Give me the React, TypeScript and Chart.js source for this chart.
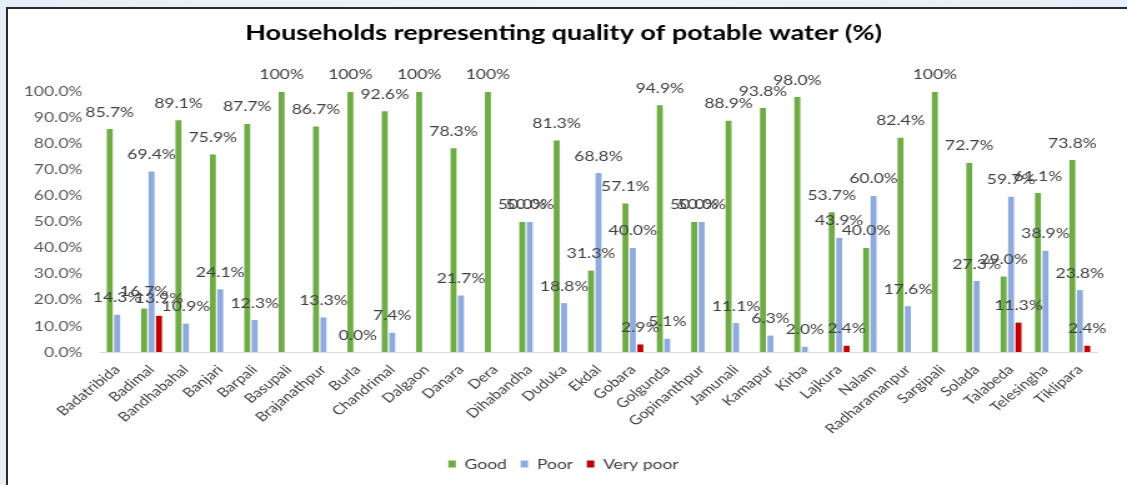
import React, { useEffect, useRef } from "react";
import { Chart, registerables } from "chart.js";

Chart.register(...registerables);

const TITLE = "Households representing quality of potable water (%)";

const categories = [
  "Badatribida", "Badimal", "Bandhabahal", "Banjari", "Barpali", "Basupali",
  "Brajanathpur", "Burla", "Chandrimal", "Dalgaon", "Danara", "Dera",
  "Dihabandha", "Duduka", "Ekdal", "Gobara", "Golgunda", "Gopinanthpur",
  "Jamunali", "Kamapur", "Kirba", "Lajkura", "Nalam", "Radharamanpur",
  "Sargipali", "Solada", "Talabeda", "Telesingha", "Tiklipara",
];

const good = [
  85.7, 16.7, 89.1, 75.9, 87.7, 100, 86.7, 100, 92.6, 100, 78.3, 100,
  50.0, 81.3, 31.3, 57.1, 94.9, 50.0, 88.9, 93.8, 98.0, 53.7, 40.0, 82.4,
  100, 72.7, 29.0, 61.1, 73.8,
];

const poor = [
  14.3, 69.4, 10.9, 24.1, 12.3, null, 13.3, 0.0, 7.4, null, 21.7, null,
  50.0, 18.8, 68.8, 40.0, 5.1, 50.0, 11.1, 6.3, 2.0, 43.9, 60.0, 17.6,
  null, 27.3, 59.7, 38.9, 23.8,
];

const veryPoor = [
  null, 13.9, null, null, null, null, null, null, null, null, null, null,
  null, null, null, 2.9, null, null, null, null, null, 2.4, null, null,
  null, null, 11.3, null, 2.4,
];

const yTicks = [0, 10, 20, 30, 40, 50, 60, 70, 80, 90, 100];

const STRETCH = 1.25;
const OUT_W = 1127;
const OUT_H = 485;
const IN_W = Math.round(OUT_W / STRETCH);

const FONT = "Lato, 'Open Sans', sans-serif";
const TEXT = "#404040";

const fmt = (v: number) => (v === 100 ? "100%" : v.toFixed(1) + "%");

const barLabels = {
  id: "barLabels",
  afterLayout(chart: any) {
    // centre title and legend over the whole canvas
    const t = chart.titleBlock;
    if (t) {
      t.left = 0;
      t.right = chart.width;
      t.width = chart.width;
    }
    const l = chart.legend;
    if (l) {
      l.left = 0;
      l.right = chart.width;
      l.width = chart.width;
    }
  },
  afterDatasetsDraw(chart: any) {
    const ctx = chart.ctx;
    ctx.save();
    ctx.font = `14px ${FONT}`;
    ctx.fillStyle = TEXT;
    ctx.textAlign = "center";
    ctx.textBaseline = "middle";
    chart.data.datasets.forEach((ds: any, i: number) => {
      const meta = chart.getDatasetMeta(i);
      meta.data.forEach((bar: any, j: number) => {
        const v = ds.data[j];
        if (v === null || v === undefined) return;
        ctx.fillText(fmt(v), bar.x, bar.y - 17);
      });
    });
    ctx.restore();
  },
};

export default function App() {
  const ref = useRef<HTMLCanvasElement | null>(null);

  useEffect(() => {
    if (!ref.current) return;
    const chart = new Chart(ref.current, {
      type: "bar",
      data: {
        labels: categories,
        datasets: [
          { label: "Good", data: good, backgroundColor: "#6FAC46" },
          { label: "Poor", data: poor, backgroundColor: "#8FAADC" },
          { label: "Very poor", data: veryPoor, backgroundColor: "#C00000" },
        ],
      },
      options: {
        responsive: false,
        animation: false,
        devicePixelRatio: 1,
        layout: { padding: { left: 0, right: IN_W - 878, top: 0, bottom: 4 } },
        datasets: { bar: { categoryPercentage: 0.65, barPercentage: 0.8 } },
        scales: {
          x: {
            grid: { display: false },
            border: { display: true, color: "#D9D9D9" },
            ticks: {
              autoSkip: false,
              minRotation: 45,
              maxRotation: 45,
              color: TEXT,
              font: { family: FONT, size: 13 },
              padding: 2,
            },
            afterFit: (s: any) => {
              s.height = 94;
            },
          },
          y: {
            min: 0,
            max: 100,
            grid: { display: false, drawTicks: false },
            border: { display: false },
            afterBuildTicks: (s: any) => {
              s.ticks = yTicks.map((v) => ({ value: v }));
            },
            ticks: {
              color: "#595959",
              font: { family: FONT, size: 14 },
              padding: 14,
              callback: (v: any) => Number(v).toFixed(1) + "%",
            },
            afterFit: (s: any) => {
              s.width = 80;
            },
          },
        },
        plugins: {
          title: {
            display: true,
            text: TITLE,
            color: "#000000",
            font: { family: FONT, size: 21.6, weight: "bold" },
            padding: { top: 20, bottom: 46 },
          },
          legend: {
            position: "bottom",
            labels: {
              boxWidth: 6,
              boxHeight: 7,
              padding: 11,
              color: TEXT,
              font: { family: FONT, size: 14 },
            },
          },
          tooltip: { enabled: false },
        },
      },
      plugins: [barLabels],
    } as any);
    (document as any).fonts?.ready?.then(() => chart.update());
    return () => chart.destroy();
  }, []);

  return (
    <div
      style={{
        position: "fixed",
        left: 0,
        top: 0,
        width: OUT_W,
        height: OUT_H,
        overflow: "hidden",
        background: "linear-gradient(90deg, #e6eff7 0%, #eef5fa 50%, #e6eff7 100%)",
      }}
    >
      <div
        style={{
          position: "absolute",
          left: 6,
          top: 7,
          width: 1200,
          height: 600,
          border: "2px solid #2a2a2a",
          background: "#ffffff",
        }}
      />
      <canvas
        ref={ref}
        width={IN_W}
        height={OUT_H}
        style={{ position: "absolute", left: 0, top: 0, width: OUT_W, height: OUT_H }}
      />
    </div>
  );
}
